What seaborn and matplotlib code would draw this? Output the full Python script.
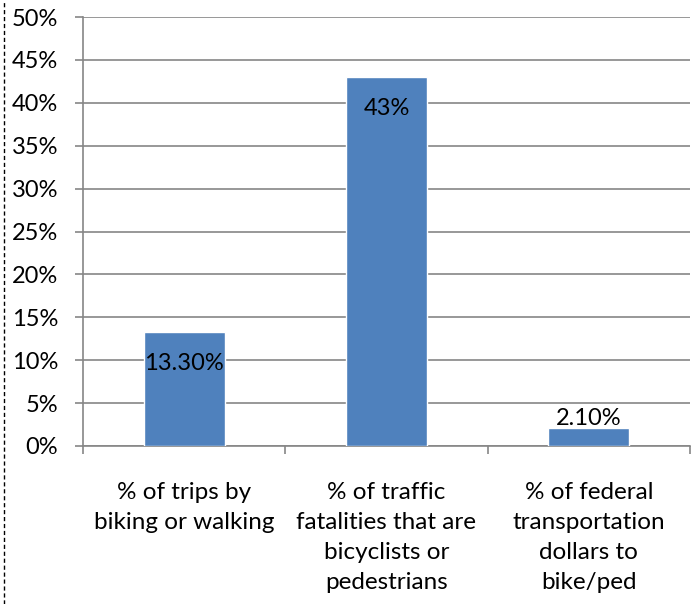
import matplotlib.pyplot as plt
import seaborn as sns
from matplotlib.lines import Line2D
from matplotlib.ticker import PercentFormatter, FixedLocator

# Chart data
categories = ['% of trips by\nbiking or walking',
              '% of traffic\nfatalities that are\nbicyclists or\npedestrians',
              '% of federal\ntransportation\ndollars to\nbike/ped']
values = [13.3, 43, 2.1]
labels = ['13.30%', '43%', '2.10%']

sns.set_style('white')
plt.rcParams['font.family'] = ['Lato', 'DejaVu Sans']
plt.rcParams['text.color'] = 'black'

fig = plt.figure(figsize=(6.98, 6.04), dpi=100)
ax = fig.add_axes([83 / 698, 1 - 446 / 604, 607 / 698, 429 / 604])

grid_c = '#868686'
sns.barplot(x=categories, y=values, color='#4F81BD', width=0.4,
            saturation=1, ax=ax, zorder=3)

ax.set_ylim(0, 50)
ax.set_xlim(-0.5, 2.5)
ax.set_yticks(range(0, 55, 5))
ax.yaxis.set_major_formatter(PercentFormatter(decimals=0))
ax.grid(axis='y', color=grid_c, linewidth=1.2, zorder=0)
ax.set_axisbelow(True)

for s in ['top', 'right']:
    ax.spines[s].set_visible(False)
for s in ['left', 'bottom']:
    ax.spines[s].set_color(grid_c)
    ax.spines[s].set_linewidth(1.2)

ax.tick_params(axis='y', length=6, color=grid_c, width=1.2, pad=12,
               labelsize=17, labelcolor='black', left=True)
ax.tick_params(axis='x', which='major', length=0, pad=26, labelsize=17.5,
               labelcolor='black')
ax.xaxis.set_minor_locator(FixedLocator([-0.5, 0.5, 1.5, 2.5]))
ax.tick_params(axis='x', which='minor', length=6, color=grid_c, width=1.2,
               bottom=True)
for t in ax.get_xticklabels():
    t.set_linespacing(1.52)
    t.set_verticalalignment('top')

# data labels
for i, (v, lab) in enumerate(zip(values, labels)):
    if v > 5:
        ax.annotate(lab, (i, v), xytext=(0, -15), textcoords='offset points',
                    ha='center', va='top', fontsize=17, zorder=5)
    else:
        ax.annotate(lab, (i, v), xytext=(0, -1), textcoords='offset points',
                    ha='center', va='bottom', fontsize=17, zorder=5)

ax.set_xlabel('')
ax.set_ylabel('')

# dashed border on the left edge
fig.add_artist(Line2D([4 / 698, 4 / 698], [0, 1], color='black',
                      linewidth=1, linestyle=(0, (3, 2))))

fig.savefig('out.png', dpi=100)
